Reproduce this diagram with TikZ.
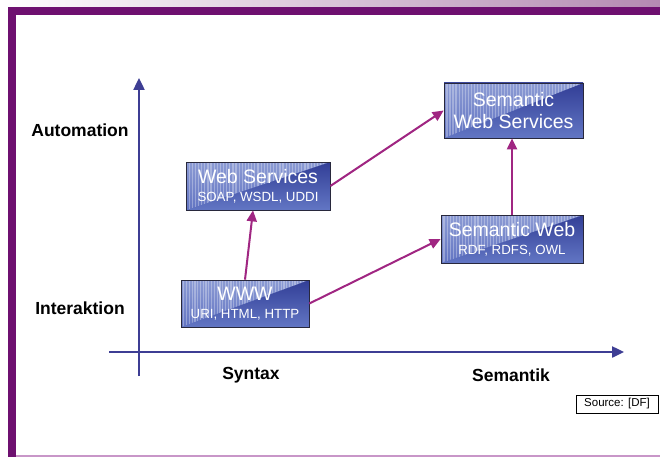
\documentclass[tikz,border=0pt]{standalone}
\usepackage{fontspec}
\setmainfont{Liberation Sans}
\usetikzlibrary{arrows.meta,calc}

\definecolor{framepurple}{RGB}{110,16,112}
\definecolor{bandmauve}{RGB}{180,138,178}
\definecolor{lineviolet}{RGB}{200,150,200}
\definecolor{axisblue}{RGB}{62,62,148}
\definecolor{linkmagenta}{RGB}{160,38,130}
\definecolor{boxdark}{RGB}{50,62,150}
\definecolor{boxmid}{RGB}{98,118,196}
\definecolor{stripetop}{RGB}{140,155,212}
\definecolor{stripebot}{RGB}{98,116,194}
\definecolor{boxedge}{RGB}{40,40,60}

\tikzset{
  techbox/.style={
    draw=boxedge, line width=0.7pt, align=center, text=white,
    inner sep=0pt, font=\fontsize{19.5}{18}\selectfont,
    path picture={
      \shade[top color=boxdark, bottom color=boxmid]
        (path picture bounding box.south west) rectangle
        (path picture bounding box.north east);
      \begin{scope}
        \clip (path picture bounding box.south west) --
              (path picture bounding box.north west) --
              (path picture bounding box.north east) -- cycle;
        \shade[top color=stripetop, bottom color=stripebot]
          (path picture bounding box.south west) rectangle
          (path picture bounding box.north east);
        \foreach \i in {0,...,46}
          \draw[white, opacity=0.3, line width=1.2pt]
            ($(path picture bounding box.north west)!\i/46!(path picture bounding box.north east)$) --
            ($(path picture bounding box.south west)!\i/46!(path picture bounding box.south east)$);
      \end{scope}
    }},
  axisline/.style={draw=axisblue, line width=2.4pt,
    -{Triangle[length=12pt,width=11pt]}},
  link/.style={draw=linkmagenta, line width=2pt,
    -{Triangle[length=11pt,width=10pt]}},
  axislabel/.style={font=\fontsize{17.5}{19}\selectfont\bfseries},
}

\newcommand{\subline}[1]{{\fontsize{13.3}{15}\selectfont #1}}

\begin{document}
\begin{tikzpicture}[x=1pt,y=-1pt]
  \useasboundingbox (0,0) rectangle (660,457);
  \fill[white] (0,0) rectangle (660,457);

  % slide frame
  \shade[left color=white, right color=bandmauve] (0,0) rectangle (660,7);
  \fill[framepurple] (8,7) rectangle (660,15);
  \fill[framepurple] (8,7) rectangle (16,457);
  \draw[lineviolet, line width=1.2pt] (16,456) -- (660,456);

  % axes
  \coordinate (ybottom) at (139,376);
  \coordinate (ytop) at (139,78);
  \coordinate (xleft) at (109,352);
  \coordinate (xright) at (624,352);
  \draw[axisline] (ybottom) -- (ytop);
  \draw[axisline] (xleft) -- (xright);

  % axis labels
  \node[axislabel] (lauto) at (80,130) {Automation};
  \node[axislabel] (linter) at (80,308) {Interaktion};
  \node[axislabel] (lsyn) at (251,375) {Syntax};
  \node[axislabel] (lsem) at (511,375) {Semantik};

  % technology boxes
  \node[techbox, minimum width=144pt, minimum height=48pt] (ws) at (258,186)
    {Web Services\\\subline{SOAP, WSDL, UDDI}};
  \node[techbox, minimum width=128pt, minimum height=47pt] (www) at (245,303.5)
    {WWW\\\subline{URI, HTML, HTTP}};
  \node[techbox, minimum width=139pt, minimum height=55pt] (sws) at (513.5,110.5)
    {Semantic\\[4pt]Web Services};
  \node[techbox, minimum width=142pt, minimum height=48pt] (sw) at (512,239)
    {Semantic Web\\\subline{RDF, RDFS, OWL}};

  % source note
  \node[draw=black, line width=0.6pt, minimum width=82pt, minimum height=18pt,
        inner sep=0pt, font=\fontsize{11.5}{13}\selectfont] (src) at (617,404) {Source: [DF]};

  % links
  \draw[link] (www.north) -- ([xshift=-5pt]ws.south);
  \draw[link] (ws.east) -- (sws.west);
  \draw[link] (www.east) -- (sw.west);
  \draw[link] (sw.north) -- (sw.north |- sws.south);
\end{tikzpicture}
\end{document}
